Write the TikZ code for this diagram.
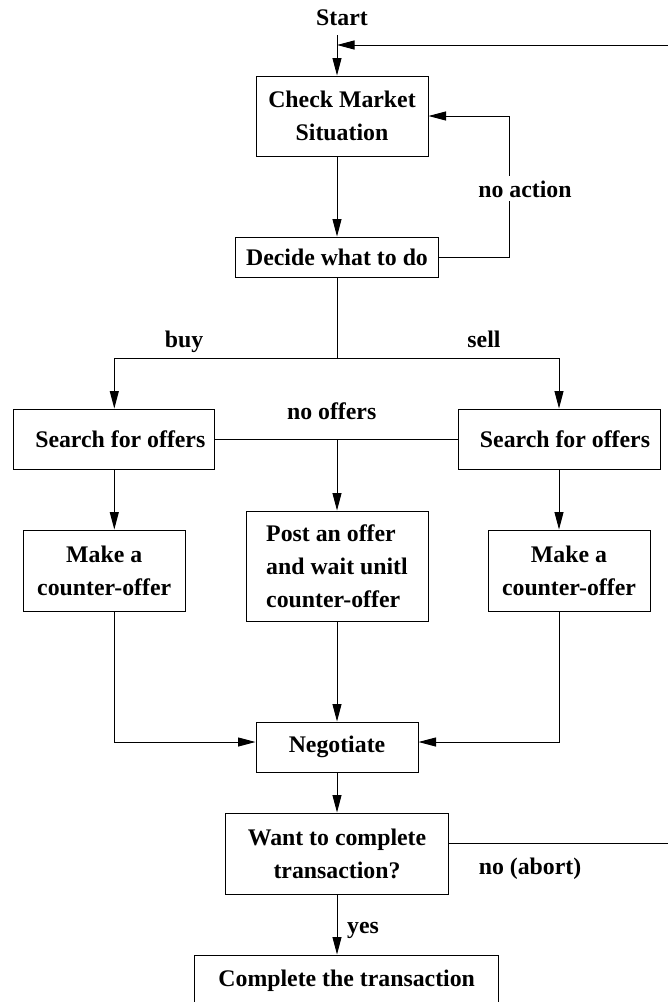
\documentclass[tikz,border=0pt]{standalone}
\usepackage{fontspec}
\setmainfont{Liberation Serif}
\usetikzlibrary{arrows.meta}
\begin{document}
\begin{tikzpicture}[x=1pt,y=-1pt,
  every node/.style={font=\fontsize{23.8}{33}\selectfont\bfseries},
  box/.style={draw,line width=1pt,inner sep=0pt},
  lbl/.style={inner sep=1pt,anchor=base},
  conn/.style={line width=1pt},
  arr/.style={conn,-{Triangle[length=17.5pt,width=9pt]}}]
\useasboundingbox (0,0) rectangle (668,1002);
\clip (0,0) rectangle (668,1002);
% nodes
\node[lbl] (start) at (342,25) {Start};
\node[box,minimum width=172pt,minimum height=80pt,align=center] (check) at (342,116) {Check Market\\Situation};
\node[box,minimum width=203pt,minimum height=40pt] (decide) at (337,257) {Decide what to do};
\node[box,minimum width=201pt,minimum height=60pt] (searchL) at (114.3,439) {\hspace*{12pt}Search for offers};
\node[box,minimum width=202pt,minimum height=60pt] (searchR) at (559,439) {\hspace*{12pt}Search for offers};
\node[box,minimum width=162pt,minimum height=81pt,align=center] (makeL) at (104.2,570.5) {Make a\\counter-offer};
\node[box,minimum width=162pt,minimum height=81pt,align=center] (makeR) at (569,570.5) {Make a\\counter-offer};
\node[box,minimum width=182pt,minimum height=110pt,align=left] (post) at (337,566) {Post an offer\\and wait unitl\\counter-offer};
\node[box,minimum width=162pt,minimum height=50pt] (nego) at (337,747) {Negotiate};
\node[box,minimum width=223pt,minimum height=81pt,align=center] (want) at (337,853.5) {Want to complete\\transaction?};
\node[box,minimum width=303.5pt,minimum height=51pt] (complete) at (346.7,980.5) {Complete the transaction};
% labels
\node[lbl] (buy) at (184,347) {buy};
\node[lbl] (sell) at (484,347) {sell};
\node[lbl] (nooffers) at (331.7,419) {no offers};
\node[lbl] (abort) at (530,874) {no (abort)};
\node[lbl] (yes) at (363,933) {yes};
% coordinates
\coordinate (s0) at (337,35);
\coordinate (ret) at (337,45);
\coordinate (br) at (337,358);
\coordinate (na) at (509,257);
% connectors
\draw[arr] (s0) -- (s0 |- check.north);
\draw[arr] ([yshift=10pt]want.east) -- (690,843.5) -- (690,45) -- (ret);
\draw[arr] (decide.north |- check.south) -- (decide.north);
\draw[arr] (decide.east) -- (na) -- (na |- check.east) -- (check.east);
\node[lbl,fill=white,inner ysep=4pt] (noaction) at (525,197) {no action};
\draw[conn] (decide.south) -- (br);
\draw[arr] (br) -| (searchL.north);
\draw[arr] (br) -| (searchR.north);
\draw[conn] (searchL.east) -- (searchR.west);
\draw[arr] (post.north |- searchL.east) -- (post.north);
\draw[arr] (searchL.south) -- (searchL.south |- makeL.north);
\draw[arr] (searchR.south) -- (searchR.south |- makeR.north);
\draw[arr] (searchL.south |- makeL.south) |- ([yshift=5pt]nego.west);
\draw[arr] (searchR.south |- makeR.south) |- ([yshift=5pt]nego.east);
\draw[arr] (post.south) -- (nego.north);
\draw[arr] (nego.south) -- (nego.south |- want.north);
\draw[arr] (want.south) -- (want.south |- complete.north);
\end{tikzpicture}
\end{document}
